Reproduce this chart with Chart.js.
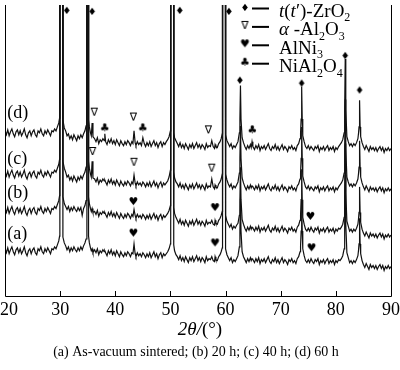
<!DOCTYPE html>
<html>
<head>
<meta charset="utf-8">
<script src="https://cdn.jsdelivr.net/npm/chart.js@4.4.1/dist/chart.umd.min.js"></script>
<style>
  body { margin: 0; background: #fff; }
  canvas { display: block; }
</style>
</head>
<body>
<canvas id="chart" width="400" height="370"></canvas>
<script>
// 2theta (deg), 0.25 step plus extra points around the peaks
var twoTheta = [
  20, 20.25, 20.5, 20.75, 21, 21.25, 21.5, 21.75, 22, 22.25,
  22.5, 22.75, 23, 23.25, 23.5, 23.75, 24, 24.25, 24.5, 24.75,
  25, 25.25, 25.5, 25.75, 26, 26.25, 26.5, 26.75, 27, 27.25,
  27.5, 27.75, 28, 28.25, 28.5, 28.75, 29, 29.25, 29.5, 29.75,
  29.9, 29.95, 30.45, 30.5, 30.75, 31, 31.25, 31.5, 31.75, 32,
  32.25, 32.5, 32.75, 33, 33.25, 33.5, 33.75, 34, 34.25, 34.5,
  34.7, 34.85, 34.9, 35.1, 35.15, 35.3, 35.5, 35.65, 35.8, 35.95,
  36.25, 36.5, 36.75, 37, 37.25, 37.5, 37.75, 38, 38.1, 38.25,
  38.5, 38.75, 39, 39.25, 39.5, 39.75, 40, 40.25, 40.5, 40.75,
  41, 41.25, 41.5, 41.75, 42, 42.25, 42.5, 42.75, 43, 43.2,
  43.4, 43.6, 43.75, 44, 44.25, 44.5, 44.75, 45, 45.25, 45.5,
  45.75, 46, 46.25, 46.5, 46.75, 47, 47.25, 47.5, 47.75, 48,
  48.25, 48.5, 48.75, 49, 49.25, 49.5, 49.75, 50, 50.05, 50.55,
  50.6, 50.75, 51, 51.25, 51.5, 51.75, 52, 52.25, 52.5, 52.75,
  53, 53.25, 53.5, 53.75, 54, 54.25, 54.5, 54.75, 55, 55.25,
  55.5, 55.75, 56, 56.25, 56.5, 56.75, 57, 57.25, 57.5, 57.75,
  58, 58.1, 58.25, 58.5, 58.75, 59, 59.2, 59.4, 59.45, 59.95,
  60, 60.25, 60.5, 60.75, 61, 61.25, 61.5, 61.75, 62, 62.25,
  62.5, 62.6, 62.7, 62.8, 63, 63.25, 63.5, 63.75, 64, 64.25,
  64.5, 64.65, 64.8, 64.95, 65.25, 65.5, 65.75, 66, 66.25, 66.5,
  66.75, 67, 67.25, 67.5, 67.75, 68, 68.25, 68.5, 68.75, 69,
  69.25, 69.5, 69.75, 70, 70.25, 70.5, 70.75, 71, 71.25, 71.5,
  71.75, 72, 72.25, 72.5, 72.75, 73, 73.25, 73.5, 73.6, 73.7,
  73.8, 73.9, 74, 74.25, 74.5, 74.75, 75, 75.25, 75.5, 75.75,
  76, 76.25, 76.5, 76.75, 77, 77.25, 77.5, 77.75, 78, 78.25,
  78.5, 78.75, 79, 79.25, 79.5, 79.75, 80, 80.25, 80.5, 80.75,
  81, 81.25, 81.5, 81.6, 81.7, 81.8, 82, 82.25, 82.5, 82.75,
  83, 83.25, 83.5, 83.75, 84, 84.1, 84.2, 84.3, 84.4, 84.5,
  84.75, 85, 85.25, 85.5, 85.75, 86, 86.25, 86.5, 86.75, 87,
  87.25, 87.5, 87.75, 88, 88.25, 88.5, 88.75, 89, 89.25, 89.5,
  89.75, 90
];

// intensities (a.u.), curves already stacked with their offset
var curveA = [
  48, 44, 49, 43, 47, 50, 45, 42, 47, 49,
  44, 48, 43, 46, 50, 44, 41, 46, 48, 43,
  47, 49, 44, 42, 48, 46, 50, 45, 43, 48,
  45, 49, 46, 43, 48, 47, 50, 48, 52, 56,
  61, 800, 800, 60, 54, 51, 47, 50, 45, 49,
  46, 50, 47, 45, 49, 46, 50, 47, 51, 54,
  58, 65, 800, 800, 61, 54, 49, 46, 48, 44,
  47, 44, 48, 42, 46, 44, 47, 45, 46, 44,
  41, 46, 43, 47, 42, 45, 41, 46, 43, 40,
  45, 42, 40, 44, 41, 45, 43, 40, 44, 43,
  53, 43, 40, 44, 41, 43, 40, 44, 42, 39,
  43, 40, 44, 39, 42, 45, 40, 43, 38, 42,
  44, 39, 43, 41, 43, 45, 48, 53, 800, 800,
  52, 46, 42, 40, 37, 41, 36, 39, 35, 40,
  37, 34, 39, 36, 40, 35, 38, 41, 36, 39,
  35, 39, 37, 34, 40, 36, 38, 37, 40, 36,
  35, 40, 37, 36, 40, 42, 45, 49, 800, 800,
  48, 42, 39, 36, 39, 34, 37, 35, 38, 41,
  50, 66, 99, 66, 45, 40, 37, 34, 38, 35,
  39, 36, 38, 37, 34, 38, 35, 39, 33, 37,
  35, 38, 34, 37, 40, 35, 33, 37, 35, 39,
  34, 37, 33, 36, 39, 34, 37, 35, 32, 37,
  35, 38, 34, 36, 33, 38, 40, 45, 51, 66,
  97, 66, 48, 41, 36, 34, 37, 34, 38, 35,
  33, 37, 35, 38, 32, 36, 34, 37, 33, 36,
  38, 33, 36, 34, 37, 32, 36, 34, 37, 36,
  38, 41, 48, 73, 123, 73, 44, 39, 34, 36,
  33, 36, 34, 37, 41, 46, 53, 79, 53, 43,
  36, 32, 29, 33, 30, 27, 32, 29, 31, 28,
  31, 27, 30, 32, 28, 31, 26, 30, 28, 31,
  28, 30
];
var curveB = [
  89, 85, 90, 84, 88, 91, 86, 83, 88, 90,
  85, 89, 84, 87, 91, 85, 82, 87, 89, 84,
  88, 90, 85, 83, 89, 87, 91, 86, 84, 89,
  86, 90, 87, 84, 89, 88, 91, 89, 93, 97,
  102, 800, 800, 101, 94, 91, 88, 91, 86, 90,
  87, 91, 88, 86, 90, 87, 90, 82, 89, 92,
  97, 105, 800, 800, 101, 94, 89, 86, 89, 85,
  86, 83, 87, 81, 85, 83, 86, 84, 85, 83,
  80, 85, 82, 86, 81, 84, 80, 85, 82, 79,
  84, 81, 79, 83, 80, 84, 82, 79, 83, 81,
  88, 82, 79, 83, 80, 82, 79, 83, 81, 78,
  82, 79, 83, 78, 81, 84, 79, 82, 77, 81,
  83, 78, 82, 80, 82, 84, 87, 92, 800, 800,
  90, 84, 80, 77, 74, 78, 73, 76, 72, 77,
  74, 71, 76, 73, 77, 72, 75, 78, 73, 76,
  72, 76, 74, 71, 77, 73, 75, 74, 77, 73,
  72, 77, 74, 73, 77, 79, 82, 86, 800, 800,
  82, 76, 73, 70, 73, 68, 71, 69, 72, 74,
  82, 98, 131, 98, 78, 73, 69, 66, 70, 67,
  71, 68, 70, 69, 66, 70, 67, 71, 65, 69,
  67, 70, 66, 69, 72, 67, 65, 69, 67, 71,
  66, 69, 65, 68, 71, 66, 69, 67, 64, 69,
  67, 70, 66, 68, 65, 70, 72, 77, 83, 98,
  129, 98, 80, 73, 68, 66, 69, 66, 70, 67,
  65, 69, 67, 70, 64, 68, 66, 69, 65, 68,
  70, 65, 68, 66, 69, 64, 68, 66, 69, 68,
  70, 73, 80, 105, 155, 105, 76, 71, 66, 68,
  65, 68, 66, 69, 73, 78, 85, 111, 85, 75,
  68, 64, 61, 65, 62, 59, 64, 61, 63, 60,
  63, 59, 62, 64, 60, 63, 58, 62, 60, 63,
  60, 62
];
var curveC = [
  126, 122, 127, 121, 125, 128, 123, 120, 125, 127,
  122, 126, 121, 124, 128, 122, 119, 124, 126, 121,
  125, 127, 122, 120, 126, 124, 128, 123, 121, 126,
  123, 127, 124, 121, 126, 125, 128, 126, 130, 134,
  139, 800, 800, 137, 130, 126, 121, 123, 118, 121,
  117, 122, 119, 116, 121, 118, 122, 119, 123, 126,
  131, 139, 800, 800, 137, 130, 124, 121, 137, 120,
  119, 116, 120, 114, 118, 116, 119, 117, 118, 116,
  113, 118, 115, 119, 114, 117, 113, 118, 115, 112,
  117, 114, 112, 116, 113, 117, 115, 112, 116, 114,
  123, 115, 112, 116, 113, 115, 112, 116, 114, 111,
  115, 112, 116, 111, 114, 117, 112, 115, 110, 114,
  116, 111, 115, 113, 115, 117, 121, 128, 800, 800,
  126, 120, 116, 114, 111, 115, 110, 113, 109, 114,
  111, 108, 113, 110, 114, 109, 112, 115, 110, 113,
  109, 113, 111, 108, 114, 110, 112, 111, 119, 111,
  109, 113, 111, 110, 114, 116, 119, 124, 800, 800,
  124, 118, 114, 111, 114, 109, 112, 110, 113, 116,
  125, 140, 173, 140, 120, 115, 111, 108, 112, 109,
  113, 110, 112, 111, 108, 112, 109, 113, 107, 111,
  109, 112, 108, 111, 114, 109, 107, 111, 109, 113,
  108, 111, 107, 110, 113, 108, 111, 109, 106, 111,
  109, 112, 108, 110, 107, 112, 114, 119, 125, 140,
  172, 140, 122, 116, 111, 109, 112, 108, 111, 109,
  107, 111, 109, 112, 106, 110, 108, 111, 107, 110,
  112, 107, 110, 108, 111, 106, 110, 108, 111, 113,
  115, 118, 125, 150, 200, 150, 121, 116, 112, 114,
  111, 114, 112, 115, 119, 124, 131, 158, 131, 121,
  115, 111, 108, 112, 109, 106, 111, 108, 110, 107,
  110, 106, 109, 111, 107, 110, 105, 109, 107, 110,
  107, 109
];
var curveD = [
  168, 164, 169, 163, 167, 170, 165, 162, 167, 169,
  164, 168, 163, 166, 170, 164, 161, 166, 168, 163,
  167, 169, 164, 162, 168, 166, 170, 165, 163, 168,
  165, 169, 166, 163, 168, 167, 170, 168, 172, 176,
  181, 800, 800, 179, 171, 168, 163, 165, 160, 163,
  159, 164, 161, 158, 163, 160, 164, 161, 165, 168,
  173, 181, 800, 800, 179, 172, 166, 163, 176, 162,
  160, 157, 161, 155, 159, 157, 160, 158, 165, 157,
  154, 159, 156, 160, 155, 158, 154, 159, 156, 153,
  158, 155, 153, 157, 154, 158, 156, 153, 157, 155,
  168, 156, 153, 157, 154, 156, 153, 161, 155, 152,
  156, 153, 157, 152, 155, 158, 153, 156, 151, 155,
  157, 152, 156, 154, 157, 159, 162, 168, 800, 800,
  166, 161, 158, 155, 152, 156, 151, 154, 150, 155,
  152, 149, 154, 151, 155, 150, 153, 156, 151, 154,
  150, 154, 152, 149, 155, 151, 153, 152, 158, 152,
  150, 154, 152, 151, 155, 157, 160, 165, 800, 800,
  164, 158, 155, 152, 155, 150, 153, 151, 154, 157,
  166, 180, 214, 180, 161, 156, 152, 149, 153, 150,
  154, 151, 157, 152, 149, 153, 150, 154, 148, 152,
  150, 153, 149, 152, 155, 150, 148, 152, 150, 154,
  149, 152, 148, 151, 154, 149, 152, 150, 147, 152,
  150, 153, 149, 151, 148, 153, 155, 160, 166, 180,
  213, 180, 163, 157, 152, 150, 153, 149, 152, 150,
  148, 152, 150, 153, 147, 151, 149, 152, 148, 151,
  153, 148, 151, 149, 152, 147, 151, 149, 152, 154,
  156, 159, 166, 190, 241, 190, 162, 157, 153, 155,
  152, 155, 153, 156, 160, 165, 172, 199, 172, 162,
  156, 152, 149, 153, 150, 147, 152, 149, 151, 148,
  151, 147, 150, 152, 148, 151, 146, 150, 148, 151,
  148, 150
];

var curveNames = ["(a)", "(b)", "(c)", "(d)"];
var curveLabelX = 20.4;
var curveLabelY = [63, 105, 139, 186];

var xTicks = [20, 30, 40, 50, 60, 70, 80, 90];

// phase markers (2theta, intensity)
var zro2X = [31.2, 35.8, 51.7, 60.6, 62.6, 73.8, 81.7, 84.3];
var zro2Y = [290, 289, 290, 289, 219, 216, 244, 209];
var al2o3X = [36.2, 43.3, 56.9, 35.9, 43.4, 57.5];
var al2o3Y = [186, 181, 168, 146, 135, 129];
var alni3X = [43.3, 58.1, 75.4, 43.3, 58.1, 75.6];
var alni3Y = [95, 89, 80, 63, 53, 48];
var nial2o4X = [38.1, 45.0, 64.85];
var nial2o4Y = [170, 170, 168];

var legendLabels = [
  [{ t: "t", it: 1 }, { t: "(" }, { t: "t", it: 1 }, { t: "′" }, { t: ")-ZrO" }, { t: "2", sub: 1 }],
  [{ t: "α", it: 1 }, { t: " -Al" }, { t: "2", sub: 1 }, { t: "O" }, { t: "3", sub: 1 }],
  [{ t: "AlNi" }, { t: "3", sub: 1 }],
  [{ t: "NiAl" }, { t: "2", sub: 1 }, { t: "O" }, { t: "4", sub: 1 }]
];
var caption = "(a) As-vacuum sintered; (b) 20 h; (c) 40 h; (d) 60 h";

var SERIF = '"Liberation Serif", "Times New Roman", serif';

function glyph(ch, size) {
  var c = document.createElement("canvas");
  c.width = size + 4;
  c.height = size + 4;
  var g = c.getContext("2d");
  g.fillStyle = "#000";
  g.font = size + 'px "DejaVu Sans"';
  g.textAlign = "center";
  g.textBaseline = "middle";
  g.fillText(ch, c.width / 2, c.height / 2);
  return c;
}

var glyphs = [glyph("♦", 10), glyph("∇", 11), glyph("♥", 11), glyph("♣", 11)];

function pts(xs, ys) {
  return xs.map(function (x, i) { return { x: x, y: ys[i] }; });
}

function curve(ys) {
  return {
    data: pts(twoTheta, ys),
    showLine: true,
    borderColor: "#111",
    borderWidth: 1.2,
    pointRadius: 0,
    tension: 0
  };
}

function markers(xs, ys, g) {
  return {
    data: pts(xs, ys),
    showLine: false,
    pointStyle: g,
    pointRadius: 3
  };
}

function drawRich(ctx, parts, x, y, size) {
  parts.forEach(function (p) {
    var fs = p.sub ? Math.round(size * 0.64) : size;
    ctx.font = (p.it ? "italic " : "") + fs + "px " + SERIF;
    ctx.fillText(p.t, x, y + (p.sub ? size * 0.24 : 0));
    x += ctx.measureText(p.t).width;
  });
  return x;
}

function richWidth(ctx, parts, size) {
  var w = 0;
  parts.forEach(function (p) {
    var fs = p.sub ? Math.round(size * 0.64) : size;
    ctx.font = (p.it ? "italic " : "") + fs + "px " + SERIF;
    w += ctx.measureText(p.t).width;
  });
  return w;
}

var decor = {
  id: "decor",
  afterDatasetsDraw: function (chart) {
    var ctx = chart.ctx, a = chart.chartArea;
    var xs = chart.scales.x, ys = chart.scales.y;
    ctx.save();
    ctx.strokeStyle = "#000";
    ctx.lineWidth = 1;
    ctx.beginPath();
    ctx.moveTo(a.left + 0.5, a.top);
    ctx.lineTo(a.left + 0.5, a.bottom + 0.5);
    ctx.lineTo(a.right + 0.5, a.bottom + 0.5);
    ctx.lineTo(a.right + 0.5, a.top);
    xTicks.forEach(function (v) {
      var px = Math.round(xs.getPixelForValue(v)) + 0.5;
      ctx.moveTo(px, a.bottom);
      ctx.lineTo(px, a.bottom - 5);
    });
    ctx.stroke();

    // tick labels, kept inside the canvas
    ctx.fillStyle = "#000";
    ctx.textAlign = "center";
    ctx.textBaseline = "alphabetic";
    ctx.font = "18px " + SERIF;
    xTicks.forEach(function (v) {
      var s = String(v), w = ctx.measureText(s).width;
      var px = xs.getPixelForValue(v);
      px = Math.min(Math.max(px, w / 2), chart.width - w / 2);
      ctx.fillText(s, px, 315);
    });

    ctx.textAlign = "left";
    ctx.textBaseline = "middle";
    curveNames.forEach(function (n, i) {
      ctx.fillText(n, xs.getPixelForValue(curveLabelX), ys.getPixelForValue(curveLabelY[i]));
    });

    // legend
    ctx.textBaseline = "alphabetic";
    legendLabels.forEach(function (parts, i) {
      var cy = 8 + i * 18.4;
      var g = glyphs[i];
      ctx.drawImage(g, 245 - g.width / 2, cy - g.height / 2);
      ctx.fillRect(252, cy - 0.5, 17, 2);
      drawRich(ctx, parts, 279, cy + 8.8, 19);
    });

    // axis title
    var title = [{ t: "2θ/", it: 1 }, { t: "(°)" }];
    var tw = richWidth(ctx, title, 19);
    drawRich(ctx, title, 200 - tw / 2, 335, 19);

    ctx.textAlign = "center";
    ctx.font = "14px " + SERIF;
    ctx.fillText(caption, 196, 356);
    ctx.restore();
  }
};

new Chart(document.getElementById("chart").getContext("2d"), {
  type: "scatter",
  data: {
    datasets: [
      curve(curveA), curve(curveB), curve(curveC), curve(curveD),
      markers(zro2X, zro2Y, glyphs[0]),
      markers(al2o3X, al2o3Y, glyphs[1]),
      markers(alni3X, alni3Y, glyphs[2]),
      markers(nial2o4X, nial2o4Y, glyphs[3])
    ]
  },
  options: {
    responsive: false,
    animation: false,
    events: [],
    layout: { padding: { left: 5, right: 9, top: 0, bottom: 0 } },
    plugins: { legend: { display: false }, tooltip: { enabled: false } },
    scales: {
      x: {
        type: "linear",
        min: 20,
        max: 90,
        ticks: { display: false, stepSize: 10 },
        grid: { display: false, drawTicks: false },
        border: { display: false },
        afterFit: function (s) {
          s.paddingLeft = 0;
          s.paddingRight = 0;
          s.height = 74;
        }
      },
      y: { display: false, min: 0, max: 296 }
    }
  },
  plugins: [decor]
});
</script>
</body>
</html>
